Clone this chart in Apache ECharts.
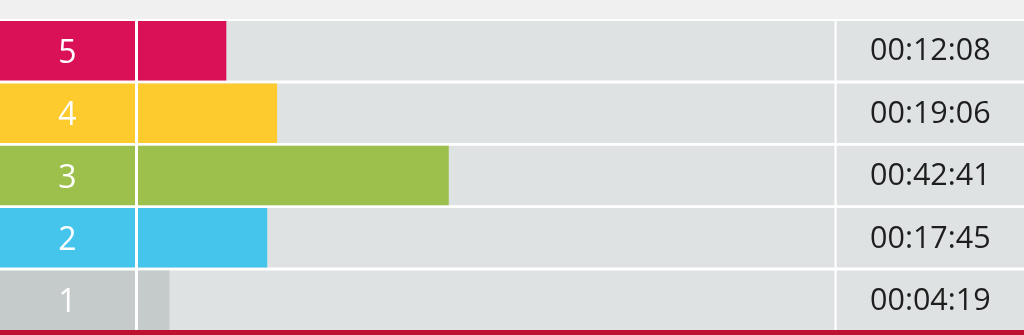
<!DOCTYPE html>
<html><head><meta charset="utf-8">
<script src="https://cdn.jsdelivr.net/npm/echarts@6/dist/echarts.min.js"></script>
<style>html,body{margin:0;padding:0;background:#fff}#c{width:1024px;height:335px}</style>
</head><body><div id="c"></div>
<script>
const categories = ['1', '2', '3', '4', '5'];
const seconds = [259, 1065, 2561, 1146, 728];
const durations = ['00:04:19', '00:17:45', '00:42:41', '00:19:06', '00:12:08'];
const colors = ['#c5cbcb', '#46c5ec', '#9dbf4c', '#fecb2f', '#db1158'];
const scaleMax = 5740;

const chart = echarts.init(document.getElementById('c'), null, {renderer: 'canvas'});
const gridTop = 19.6, gridBottom = 3.6, barW = 59.5;
const font = '"Open Sans", sans-serif';
const hiddenCat = (i) => ({gridIndex: i, type: 'category', data: categories, show: false});
const hiddenVal = (i, max) => ({gridIndex: i, type: 'value', min: 0, max: max, show: false});

chart.setOption({
  animation: false,
  backgroundColor: '#ffffff',
  grid: [
    {left: 0, width: 135, top: gridTop, bottom: gridBottom},
    {left: 138, width: 696.5, top: gridTop, bottom: gridBottom},
    {left: 836.7, right: 0, top: gridTop, bottom: gridBottom}
  ],
  xAxis: [hiddenVal(0, 1), hiddenVal(1, scaleMax), hiddenVal(2, 1)],
  yAxis: [hiddenCat(0), hiddenCat(1), hiddenCat(2)],
  graphic: [
    {type: 'rect', left: 0, top: 0, shape: {width: 1024, height: 19}, style: {fill: '#f0f0f0'}, silent: true},
    {type: 'rect', left: 0, top: 330, shape: {width: 1024, height: 5}, style: {fill: '#bf112f'}, silent: true}
  ],
  series: [
    {
      type: 'bar', xAxisIndex: 0, yAxisIndex: 0, barWidth: barW, silent: true,
      data: categories.map((c, i) => ({value: 1, itemStyle: {color: colors[i]}})),
      label: {show: true, position: 'inside', offset: [0, 3], formatter: '{b}', color: '#ffffff', fontSize: 32, fontFamily: font}
    },
    {
      type: 'bar', xAxisIndex: 1, yAxisIndex: 1, barWidth: barW, silent: true,
      showBackground: true, backgroundStyle: {color: '#dfe2e3'},
      data: seconds.map((v, i) => ({value: v, itemStyle: {color: colors[i]}}))
    },
    {
      type: 'bar', xAxisIndex: 2, yAxisIndex: 2, barWidth: barW, silent: true,
      data: durations.map(() => 1),
      itemStyle: {color: '#dfe2e3'},
      label: {show: true, position: 'inside', offset: [0, 1], formatter: (p) => durations[p.dataIndex], color: '#1e1e1e', fontSize: 30.5, fontFamily: font}
    }
  ]
});
</script></body></html>
